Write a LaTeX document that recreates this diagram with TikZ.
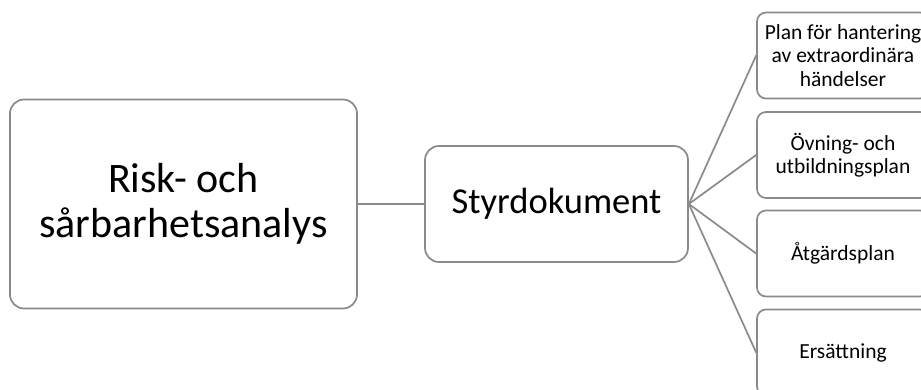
\documentclass[tikz,border=0pt]{standalone}
\usepackage{fontspec}
\setmainfont{Carlito}
\definecolor{edge}{RGB}{138,138,138}
\begin{document}
\begin{tikzpicture}[x=1pt,y=-1pt,
  box/.style={draw=edge,line width=1.7pt,rounded corners=14pt,fill=white,align=center,inner sep=2pt,text=black},
  leaf/.style={box,rounded corners=9pt,minimum width=172pt,minimum height=86pt,font=\fontsize{21.5}{23.5}\selectfont},
  link/.style={draw=edge,line width=1.7pt}]
\useasboundingbox (0,0) rectangle (921,390);
\node[box,minimum width=347pt,minimum height=209pt,font=\fontsize{42}{45}\selectfont] (rsa) at (183.5,204) {Risk- och\\sårbarhetsanalys};
\node[box,minimum width=263pt,minimum height=116pt,font=\fontsize{36.5}{40}\selectfont] (styr) at (556.5,204) {Styrdokument};
\node[leaf] (p1) at (843,55.5) {Plan för hantering\\av extraordinära\\händelser};
\node[leaf] (p2) at (843,155) {Övning- och\\utbildningsplan};
\node[leaf] (p3) at (843,253.5) {Åtgärdsplan};
\node[leaf] (p4) at (843,352.5) {Ersättning};
\draw[link] (rsa.east) -- (styr.west);
\foreach \n in {p1,p2,p3,p4} \draw[link] (styr.east) -- (\n.west);
\end{tikzpicture}
\end{document}
